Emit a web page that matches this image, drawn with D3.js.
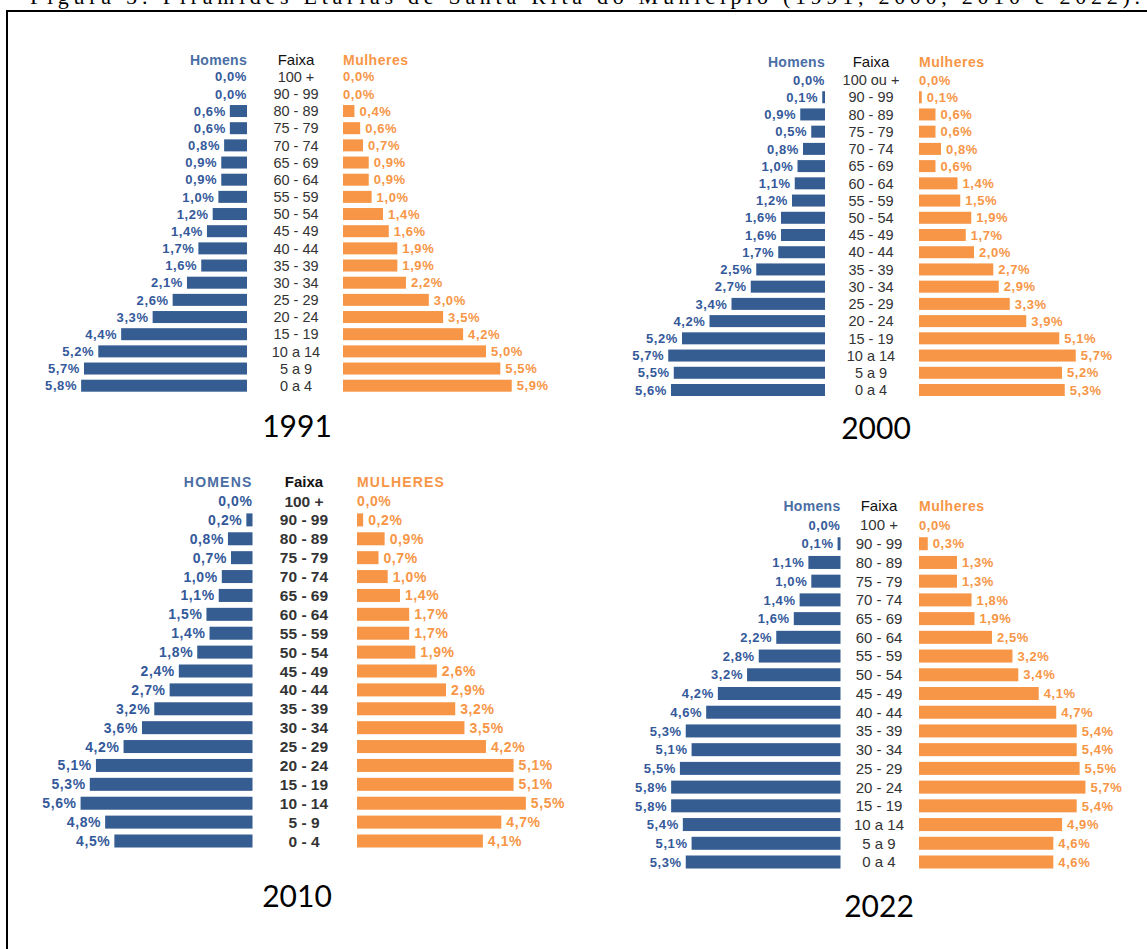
<!DOCTYPE html>
<html>
<head>
<meta charset="utf-8">
<script src="https://cdn.jsdelivr.net/npm/d3@7"></script>
<style>
	html, body { margin: 0; padding: 0; background: #fff; overflow: hidden; }
	svg { display: block; }
</style>
</head>
<body>
<div id="chart_holder"></div>
<script>
// four age pyramids of the municipality, one for each census year

var faixas1991 = ["100 +", "90 - 99", "80 - 89", "75 - 79", "70 - 74", "65 - 69", "60 - 64", "55 - 59", "50 - 54", "45 - 49", "40 - 44", "35 - 39", "30 - 34", "25 - 29", "20 - 24", "15 - 19", "10 a 14", "5 a 9", "0 a 4"];
var homens1991 = [0.0, 0.0, 0.6, 0.6, 0.8, 0.9, 0.9, 1.0, 1.2, 1.4, 1.7, 1.6, 2.1, 2.6, 3.3, 4.4, 5.2, 5.7, 5.8];
var mulheres1991 = [0.0, 0.0, 0.4, 0.6, 0.7, 0.9, 0.9, 1.0, 1.4, 1.6, 1.9, 1.9, 2.2, 3.0, 3.5, 4.2, 5.0, 5.5, 5.9];

var faixas2000 = ["100 ou +", "90 - 99", "80 - 89", "75 - 79", "70 - 74", "65 - 69", "60 - 64", "55 - 59", "50 - 54", "45 - 49", "40 - 44", "35 - 39", "30 - 34", "25 - 29", "20 - 24", "15 - 19", "10 a 14", "5 a 9", "0 a 4"];
var homens2000 = [0.0, 0.1, 0.9, 0.5, 0.8, 1.0, 1.1, 1.2, 1.6, 1.6, 1.7, 2.5, 2.7, 3.4, 4.2, 5.2, 5.7, 5.5, 5.6];
var mulheres2000 = [0.0, 0.1, 0.6, 0.6, 0.8, 0.6, 1.4, 1.5, 1.9, 1.7, 2.0, 2.7, 2.9, 3.3, 3.9, 5.1, 5.7, 5.2, 5.3];

var faixas2010 = ["100 +", "90 - 99", "80 - 89", "75 - 79", "70 - 74", "65 - 69", "60 - 64", "55 - 59", "50 - 54", "45 - 49", "40 - 44", "35 - 39", "30 - 34", "25 - 29", "20 - 24", "15 - 19", "10 - 14", "5 - 9", "0 - 4"];
var homens2010 = [0.0, 0.2, 0.8, 0.7, 1.0, 1.1, 1.5, 1.4, 1.8, 2.4, 2.7, 3.2, 3.6, 4.2, 5.1, 5.3, 5.6, 4.8, 4.5];
var mulheres2010 = [0.0, 0.2, 0.9, 0.7, 1.0, 1.4, 1.7, 1.7, 1.9, 2.6, 2.9, 3.2, 3.5, 4.2, 5.1, 5.1, 5.5, 4.7, 4.1];

var faixas2022 = ["100 +", "90 - 99", "80 - 89", "75 - 79", "70 - 74", "65 - 69", "60 - 64", "55 - 59", "50 - 54", "45 - 49", "40 - 44", "35 - 39", "30 - 34", "25 - 29", "20 - 24", "15 - 19", "10 a 14", "5 a 9", "0 a 4"];
var homens2022 = [0.0, 0.1, 1.1, 1.0, 1.4, 1.6, 2.2, 2.8, 3.2, 4.2, 4.6, 5.3, 5.1, 5.5, 5.8, 5.8, 5.4, 5.1, 5.3];
var mulheres2022 = [0.0, 0.3, 1.3, 1.3, 1.8, 1.9, 2.5, 3.2, 3.4, 4.1, 4.7, 5.4, 5.4, 5.5, 5.7, 5.4, 4.9, 4.6, 4.6];

var anos = ["1991", "2000", "2010", "2022"];

var AZUL = "#355d92", LARANJA = "#f79646";
var width = 1147, height = 949;

var svg = d3.select("#chart_holder").append("svg")
	.attr("width", width)
	.attr("height", height);

// caption of the figure, mostly cut off at the top of the page
svg.append("text")
	.attr("x", 30)
	.attr("y", 4)
	.attr("textLength", 1110)
	.style("font-family", "Liberation Serif")
	.style("font-size", "22px")
	.text("Figura 5: Pirâmides Etárias de Santa Rita do Município (1991, 2000, 2010 e 2022).");

// frame round the whole thing
svg.append("rect")
	.attr("x", 7).attr("y", 11)
	.attr("width", width).attr("height", height)
	.style("fill", "none")
	.style("stroke", "#000")
	.style("stroke-width", 2);

// each panel was pasted from a different source, so every one has its own look
var paineis = [
	{ ano: anos[0], faixas: faixas1991, homens: homens1991, mulheres: mulheres1991,
	  hRight: 247, mLeft: 343, faixaX: 296, headY: 60, top: 76.7, bottom: 385.7, pxPct: 28.6, barH: 12,
	  anoX: 297, anoY: 437, caps: false, negrito: false, valSize: 13, faixaSize: 14.5 },
	{ ano: anos[1], faixas: faixas2000, homens: homens2000, mulheres: mulheres2000,
	  hRight: 825, mLeft: 919, faixaX: 871, headY: 62, top: 80, bottom: 390, pxPct: 27.5, barH: 12,
	  anoX: 876, anoY: 439, caps: false, negrito: false, valSize: 13, faixaSize: 14.5 },
	{ ano: anos[2], faixas: faixas2010, homens: homens2010, mulheres: mulheres2010,
	  hRight: 252.5, mLeft: 357, faixaX: 304, headY: 482, top: 501, bottom: 841, pxPct: 30.7, barH: 13,
	  anoX: 297, anoY: 907, caps: true, negrito: true, valSize: 14, faixaSize: 15.5 },
	{ ano: anos[3], faixas: faixas2022, homens: homens2022, mulheres: mulheres2022,
	  hRight: 840.5, mLeft: 919, faixaX: 879, headY: 506, top: 525, bottom: 862, pxPct: 29.2, barH: 13,
	  anoX: 879, anoY: 917, caps: false, negrito: false, valSize: 13, faixaSize: 15 }
];

function fmt(v) {
	return v.toFixed(1).replace(".", ",") + "%";
}

paineis.forEach(function(p) {
	var g = svg.append("g");

	var y = d3.scalePoint()
		.domain(p.faixas)
		.range([p.top, p.bottom]);

	var x = d3.scaleLinear()
		.domain([0, 6])
		.range([0, 6 * p.pxPct]);

	var linhas = p.faixas.map(function(f, i) {
		return { faixa: f, h: p.homens[i], m: p.mulheres[i] };
	});

	// headers
	g.append("text")
		.attr("x", p.hRight).attr("y", p.headY)
		.attr("dy", "0.35em")
		.attr("text-anchor", "end")
		.style("font-family", "Liberation Sans")
		.style("font-weight", "bold")
		.style("font-size", "14px")
		.style("letter-spacing", p.caps ? "1.2px" : "0.3px")
		.style("fill", "#4a6ea4")
		.text(p.caps ? "HOMENS" : "Homens");

	g.append("text")
		.attr("x", p.faixaX).attr("y", p.headY)
		.attr("dy", "0.35em")
		.attr("text-anchor", "middle")
		.style("font-family", "Liberation Sans")
		.style("font-weight", p.negrito ? "bold" : "normal")
		.style("font-size", "15px")
		.style("fill", "#111")
		.text("Faixa");

	g.append("text")
		.attr("x", p.mLeft).attr("y", p.headY)
		.attr("dy", "0.35em")
		.style("font-family", "Liberation Sans")
		.style("font-weight", "bold")
		.style("font-size", "14px")
		.style("letter-spacing", p.caps ? "1.2px" : "0.5px")
		.style("fill", LARANJA)
		.text(p.caps ? "MULHERES" : "Mulheres");

	// men, to the left
	g.selectAll(".barH")
		.data(linhas)
		.enter().append("rect")
			.attr("class", "barH")
			.attr("x", function(d) { return p.hRight - x(d.h); })
			.attr("y", function(d) { return y(d.faixa) - p.barH / 2; })
			.attr("width", function(d) { return x(d.h); })
			.attr("height", p.barH)
			.style("fill", AZUL);

	// women, to the right
	g.selectAll(".barM")
		.data(linhas)
		.enter().append("rect")
			.attr("class", "barM")
			.attr("x", p.mLeft)
			.attr("y", function(d) { return y(d.faixa) - p.barH / 2; })
			.attr("width", function(d) { return x(d.m); })
			.attr("height", p.barH)
			.style("fill", LARANJA);

	g.selectAll(".valH")
		.data(linhas)
		.enter().append("text")
			.attr("class", "valH")
			.attr("x", function(d) { return p.hRight - x(d.h) - (d.h > 0 ? 4 : 0); })
			.attr("y", function(d) { return y(d.faixa); })
			.attr("dy", "0.36em")
			.attr("text-anchor", "end")
			.style("font-family", "Liberation Sans")
			.style("font-weight", "bold")
			.style("font-size", p.valSize + "px")
			.style("letter-spacing", "0.6px")
			.style("fill", "#34599a")
			.text(function(d) { return fmt(d.h); });

	g.selectAll(".valM")
		.data(linhas)
		.enter().append("text")
			.attr("class", "valM")
			.attr("x", function(d) { return p.mLeft + x(d.m) + (d.m > 0 ? 5 : 0); })
			.attr("y", function(d) { return y(d.faixa); })
			.attr("dy", "0.36em")
			.style("font-family", "Liberation Sans")
			.style("font-weight", "bold")
			.style("font-size", p.valSize + "px")
			.style("letter-spacing", "0.6px")
			.style("fill", LARANJA)
			.text(function(d) { return fmt(d.m); });

	// age bands in the middle
	g.selectAll(".faixa")
		.data(linhas)
		.enter().append("text")
			.attr("class", "faixa")
			.attr("x", p.faixaX)
			.attr("y", function(d) { return y(d.faixa); })
			.attr("dy", "0.36em")
			.attr("text-anchor", "middle")
			.style("font-family", "Liberation Sans")
			.style("font-weight", p.negrito ? "bold" : "normal")
			.style("font-size", p.faixaSize + "px")
			.style("fill", "#333")
			.text(function(d) { return d.faixa; });

	// year under the pyramid
	g.append("text")
		.attr("x", p.anoX).attr("y", p.anoY)
		.attr("text-anchor", "middle")
		.style("font-family", "Lato")
		.style("font-size", "30px")
		.style("fill", "#000")
		.text(p.ano);
});
</script>
</body>
</html>
